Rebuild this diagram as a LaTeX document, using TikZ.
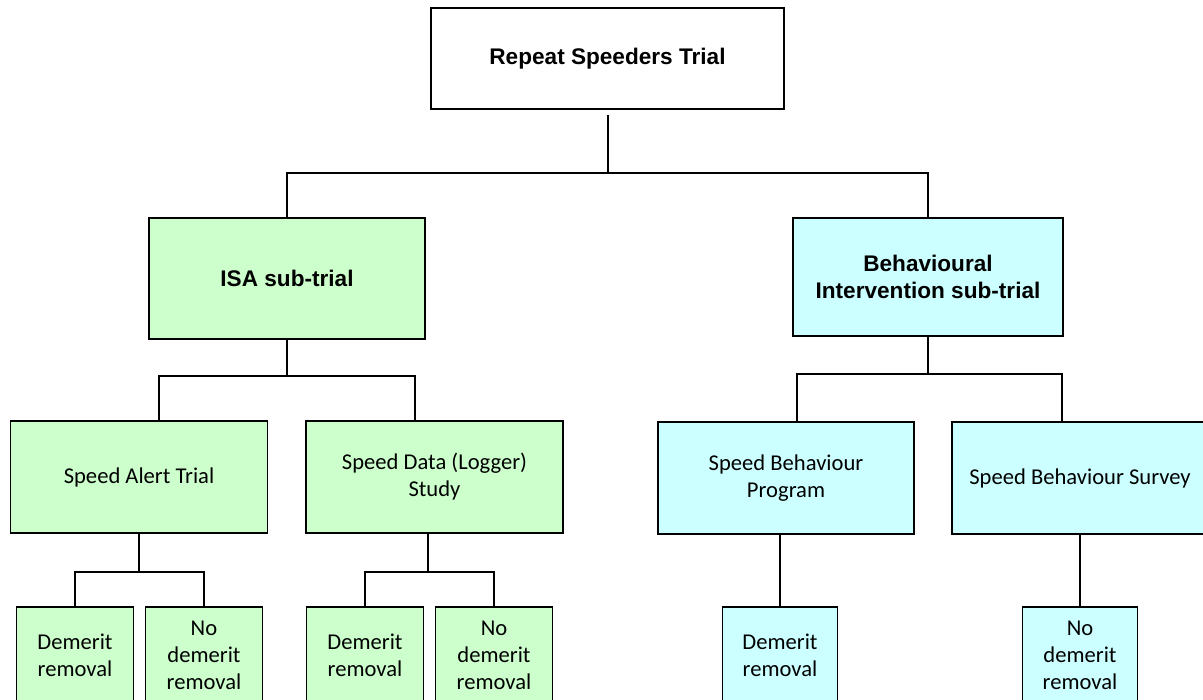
\documentclass[tikz,border=0pt]{standalone}
\usepackage{fontspec}
\setmainfont{Carlito}
\newfontfamily\arialf{Liberation Sans}
\definecolor{boxgreen}{HTML}{CCFFCC}
\definecolor{boxcyan}{HTML}{CCFFFF}
\begin{document}
\begin{tikzpicture}[x=1pt,y=-1pt,
  box/.style={draw=black, line width=1.4pt, rectangle, inner sep=0pt, align=center,
    font=\fontsize{22.6}{27}\selectfont},
  bbox/.style={box, font=\arialf\bfseries\fontsize{22.6}{27}\selectfont},
  gfill/.style={fill=boxgreen},
  cfill/.style={fill=boxcyan},
  conn/.style={draw=black, line width=1.4pt}]
\useasboundingbox (0,0) rectangle (1203,700);
\clip (0,0) rectangle (1203,700);

% level 0
\node[bbox, fill=white, minimum width=353pt, minimum height=101pt] (top) at (607.5,58.5) {Repeat Speeders Trial};
% level 1
\node[bbox, gfill, minimum width=276pt, minimum height=121pt] (isa) at (287,278.5) {ISA sub-trial};
\node[bbox, cfill, minimum width=270pt, minimum height=118pt] (bi) at (928,277) {Behavioural\\Intervention sub-trial};
% level 2
\node[box, gfill, minimum width=257pt, minimum height=112pt] (sat) at (139,477) {Speed Alert Trial};
\node[box, gfill, minimum width=257pt, minimum height=112pt] (sld) at (434.5,477) {Speed Data (Logger)\\Study};
\node[box, cfill, minimum width=256pt, minimum height=112pt] (sbp) at (786,478) {Speed Behaviour\\Program};
\node[box, cfill, minimum width=256pt, minimum height=112pt] (sbs) at (1080,478) {Speed Behaviour Survey};
% level 3
\node[box, gfill, minimum width=117pt, minimum height=96pt] (dA) at (75,655) {Demerit\\removal};
\node[box, gfill, minimum width=117pt, minimum height=96pt] (ndA) at (204,655) {No\\demerit\\removal};
\node[box, gfill, minimum width=117pt, minimum height=96pt] (dB) at (365,655) {Demerit\\removal};
\node[box, gfill, minimum width=117pt, minimum height=96pt] (ndB) at (494,655) {No\\demerit\\removal};
\node[box, cfill, minimum width=115pt, minimum height=96pt] (dC) at (780,655) {Demerit\\removal};
\node[box, cfill, minimum width=115pt, minimum height=96pt] (ndC) at (1080,655) {No\\demerit\\removal};

% connectors
\coordinate (j0) at (608,173);
\draw[conn] (j0 |- 0,115) -- (j0);
\draw[conn] (isa.north) |- (j0) -| (bi.north);

\coordinate (j1) at (287,376);
\draw[conn] (isa.south) -- (j1);
\draw[conn] ([xshift=20pt]sat.north) |- (j1) -| ([xshift=-19.5pt]sld.north);

\coordinate (j2) at (928,374);
\draw[conn] (bi.south) -- (j2);
\draw[conn] ([xshift=11pt]sbp.north) |- (j2) -| ([xshift=-18pt]sbs.north);

\coordinate (j3) at (139,572);
\draw[conn] (sat.south) -- (j3);
\draw[conn] (dA.north) |- (j3) -| (ndA.north);

\coordinate (j4) at (428,572);
\draw[conn] ([xshift=-6.5pt]sld.south) -- (j4);
\draw[conn] (dB.north) |- (j4) -| (ndB.north);

\draw[conn] (dC.north) -- (dC.north |- sbp.south);
\draw[conn] (ndC.north) -- (sbs.south);
\end{tikzpicture}
\end{document}
